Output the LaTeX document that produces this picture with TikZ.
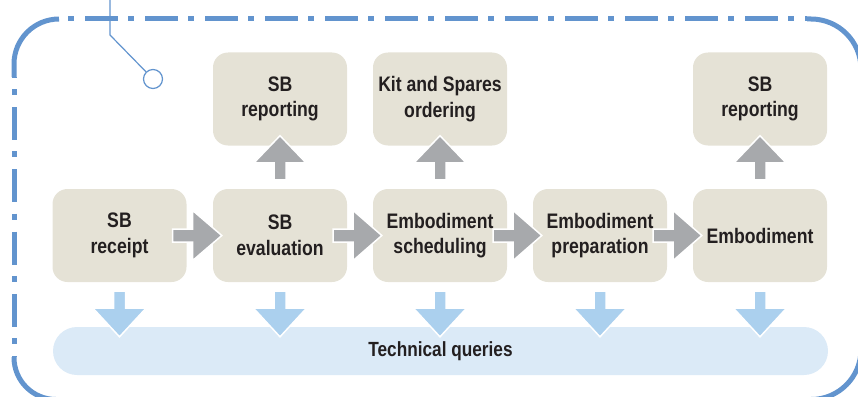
\documentclass[tikz,border=0pt]{standalone}
\usepackage{fontspec}
\setmainfont{Liberation Sans}[FakeStretch=0.84]
\usetikzlibrary{calc}
\definecolor{frameblue}{RGB}{98,148,206}
\definecolor{boxbeige}{RGB}{229,226,214}
\definecolor{arrowgray}{RGB}{167,169,172}
\definecolor{arrowblue}{RGB}{171,208,238}
\definecolor{barblue}{RGB}{219,234,247}
\definecolor{txt}{RGB}{35,31,32}
\begin{document}
\begin{tikzpicture}[x=1pt,y=-1pt,
  box/.style={fill=boxbeige, rounded corners=15pt, minimum width=134pt, minimum height=93pt,
    inner sep=0pt, align=center, font=\fontsize{21}{25.5}\selectfont\bfseries, text=txt},
  bar/.style={fill=barblue, rounded corners=24pt, minimum width=775pt, minimum height=48pt,
    inner sep=0pt, font=\fontsize{20.5}{24}\selectfont\bfseries, text=txt},
  grayarrow/.style={fill=arrowgray, draw=white, line width=1.5pt, line join=miter},
  bluearrow/.style={fill=arrowblue, draw=white, line width=1.5pt, line join=miter},
  framesolid/.style={draw=frameblue, line width=5pt},
  frametop/.style={draw=frameblue, line width=5pt, dash pattern=on 33pt off 10pt on 6pt off 11pt, dash phase=34pt},
  frameside/.style={draw=frameblue, line width=5pt, dash pattern=on 6pt off 12pt on 33pt off 11.25pt, dash phase=50.25pt},
  pin/.style={draw=frameblue, line width=1.2pt}
]
\useasboundingbox (0,0) rectangle (858,396);

% frame corners (solid)
\draw[framesolid, rounded corners=45pt] (14,77) -- (14,19) -- (59,19);
\draw[framesolid, rounded corners=50pt] (807,19) -- (861,19) -- (861,69);
\draw[framesolid, rounded corners=42pt] (14,357) -- (14,399.5) -- (60,399.5);
\draw[framesolid, rounded corners=50pt] (861,348) -- (861,399.5) -- (811,399.5);
% frame straight parts (dash-dot)
\draw[frametop] (59,19) -- (807,19);
\draw[frameside] (14,77) -- (14,357);
\draw[frameside] (861,69) -- (861,348);
\draw[frametop] (60,399.5) -- (811,399.5);

% pin
\node[circle, draw=frameblue, fill=white, line width=1.2pt, minimum size=19pt, inner sep=0pt] (pinc) at (153,79) {};
\coordinate (pintop) at (110,-2);
\coordinate (pinbend) at (110,35);
\draw[pin] (pintop) -- (pinbend) -- (pinc);

% boxes
\node[box] (b1) at (119.5,235.5) {SB\\receipt};
\node[box] (b2) at (280,235.5) {SB\\evaluation};
\node[box] (b3) at (440,235.5) {Embodiment\\scheduling};
\node[box] (b4) at (600,235.5) {Embodiment\\preparation};
\node[box] (b5) at (760,235.5) {Embodiment};
\node[box] (t2) at (280,99) {SB\\reporting};
\node[box] (t3) at (440,99) {Kit and Spares\\ordering};
\node[box] (t5) at (760,99) {SB\\reporting};
\node[bar] (tq) at (440.5,351) {Technical queries};

% right arrows
\foreach \a/\b in {b1/b2, b2/b3, b3/b4, b4/b5}{
  \draw[grayarrow] ($(\a.east)+(-14,-6.5)$) -- ($(\a.east)+(6,-6.5)$) -- ($(\a.east)+(6,-25)$)
    -- ($(\b.west)+(9,0)$) -- ($(\a.east)+(6,25)$) -- ($(\a.east)+(6,6.5)$)
    -- ($(\a.east)+(-14,6.5)$) -- cycle;
}
% up arrows
\foreach \a/\b in {b2/t2, b3/t3, b5/t5}{
  \draw[grayarrow] ($(\a.north)+(-6,-9)$) -- ($(\a.north)+(-6,-26)$) -- ($(\a.north)+(-26,-26)$)
    -- ($(\b.south)+(0,-10)$) -- ($(\a.north)+(26,-26)$) -- ($(\a.north)+(6,-26)$)
    -- ($(\a.north)+(6,-9)$) -- cycle;
}
% down arrows
\foreach \a in {b1,b2,b3,b4,b5}{
  \draw[bluearrow] ($(\a.south)+(-6,9)$) -- ($(\a.south)+(-6,26)$) -- ($(\a.south)+(-26.5,26)$)
    -- ($(\a.south |- tq.north)+(0,10)$) -- ($(\a.south)+(26.5,26)$) -- ($(\a.south)+(6,26)$)
    -- ($(\a.south)+(6,9)$) -- cycle;
}
\end{tikzpicture}
\end{document}
